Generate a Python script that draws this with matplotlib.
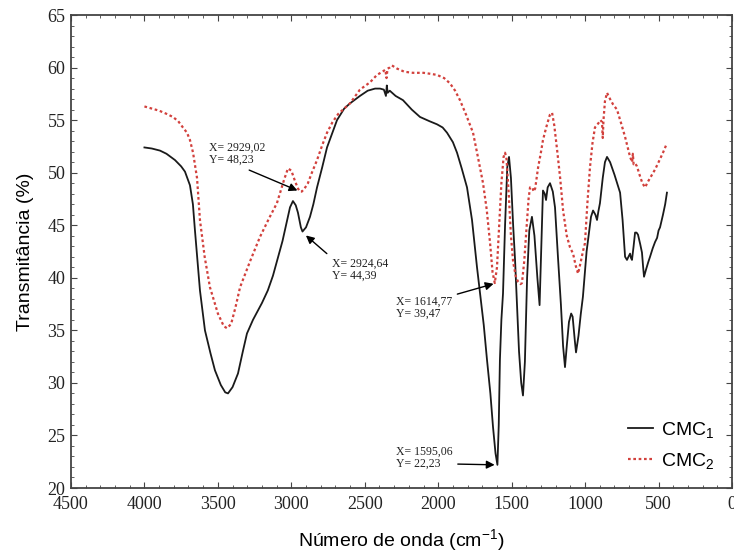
import matplotlib.pyplot as plt
from matplotlib.ticker import MultipleLocator

# CMC1 (black solid) - wavenumber / transmittance
wn1 = [4000, 3950, 3894, 3850, 3792, 3750, 3724, 3690, 3670, 3656, 3622, 3588, 3550, 3520,
       3480, 3450, 3431, 3400, 3363, 3330, 3302, 3261, 3200, 3160, 3125, 3060, 3009, 2989, 2970,
       2955, 2935, 2924, 2900, 2873, 2850, 2825, 2790, 2757, 2720, 2689, 2640, 2600, 2533,
       2480, 2430, 2396, 2370, 2356, 2350, 2344, 2330, 2290, 2240, 2180, 2124, 2060, 2008,
       1970, 1940, 1900, 1872, 1840, 1804, 1770, 1736, 1715, 1690, 1668, 1645, 1627, 1610,
       1597, 1588, 1580, 1570, 1559, 1545, 1530, 1518, 1505, 1490, 1477, 1450, 1435, 1423,
       1410, 1395, 1380, 1362, 1345, 1325, 1310, 1300, 1287, 1275, 1266, 1255, 1239, 1220,
       1205, 1185, 1165, 1150, 1137, 1125, 1110, 1095, 1085, 1070, 1062, 1045, 1030, 1015,
       990, 960, 946, 930, 919, 910, 899, 880, 865, 851, 830, 800, 762, 745, 728, 715, 705,
       694, 688, 681, 670, 660, 650, 640, 625, 613, 605, 599, 585, 570, 558, 540, 524, 510,
       500, 490, 470, 455, 443]
t1 = [52.4, 52.3, 52.1, 51.8, 51.2, 50.6, 50.1, 48.8, 47.0, 44.5, 38.8, 35.0, 32.8, 31.2,
      29.8, 29.1, 29.0, 29.6, 30.9, 33.0, 34.7, 36.0, 37.6, 38.8, 40.2, 43.5, 46.7, 47.3, 46.9,
      46.2, 44.8, 44.4, 44.8, 45.8, 47.0, 48.6, 50.5, 52.4, 53.8, 55.0, 56.1, 56.6, 57.3,
      57.8, 58.0, 58.0, 57.9, 57.3, 58.3, 57.6, 57.8, 57.3, 56.9, 56.0, 55.3, 54.9, 54.6,
      54.3, 53.8, 52.9, 51.9, 50.4, 48.6, 45.5, 41.0, 38.5, 35.5, 32.2, 29.0, 25.8, 23.3,
      22.2, 26.0, 32.2, 36.0, 38.5, 45.0, 50.5, 51.5, 49.5, 45.0, 41.7, 33.0, 30.0, 28.8,
      32.0, 40.0, 44.5, 45.8, 44.0, 40.0, 37.4, 42.0, 48.3, 48.0, 47.4, 48.6, 49.0, 48.2,
      46.7, 42.0, 37.5, 33.5, 31.5, 33.5, 35.8, 36.6, 36.3, 34.0, 32.9, 34.5, 36.5, 38.2,
      42.5, 45.8, 46.4, 46.0, 45.5, 46.3, 47.1, 49.5, 51.0, 51.5, 51.0, 49.8, 48.1, 45.5,
      42.0, 41.7, 42.0, 42.3, 41.9, 41.7, 43.0, 44.3, 44.3, 44.1, 43.2, 42.4, 41.0, 40.1,
      40.8, 41.5, 42.0, 42.8, 43.4, 43.8, 44.5, 44.8, 46.0, 47.0, 48.1]

# CMC2 (red dotted)
wn2 = [4000, 3950, 3900, 3850, 3806, 3770, 3738, 3710, 3690, 3669, 3642, 3622, 3590, 3554,
       3500, 3460, 3438, 3410, 3380, 3349, 3280, 3213, 3150, 3098, 3050, 3023, 3000, 2975,
       2955, 2941, 2929, 2910, 2887, 2860, 2825, 2790, 2757, 2720, 2680, 2640, 2600, 2533,
       2464, 2417, 2380, 2360, 2352, 2345, 2330, 2315, 2280, 2230, 2172, 2100, 2050, 2008,
       1960, 1920, 1885, 1852, 1810, 1763, 1730, 1695, 1670, 1647, 1630, 1615, 1600, 1585,
       1570, 1555, 1545, 1535, 1520, 1505, 1490, 1470, 1455, 1440, 1430, 1415, 1400, 1385,
       1375, 1360, 1350, 1340, 1320, 1300, 1287, 1265, 1240, 1225, 1210, 1191, 1170, 1150,
       1125, 1103, 1082, 1065, 1048, 1030, 1015, 1001, 985, 967, 950, 933, 910, 895, 885,
       880, 875, 865, 851, 830, 810, 783, 755, 728, 710, 694, 680, 675, 670, 660, 647, 625,
       610, 592, 570, 545, 524, 500, 470, 443]
t2 = [56.3, 56.1, 55.9, 55.6, 55.3, 54.9, 54.3, 53.8, 53.1, 51.9, 49.5, 45.5, 42.0, 39.1,
      36.6, 35.4, 35.2, 35.6, 37.2, 39.1, 41.6, 43.9, 45.7, 47.1, 49.3, 50.4, 50.2, 49.2,
      48.5, 48.2, 48.2, 48.5, 49.0, 50.0, 51.2, 52.6, 53.8, 54.8, 55.6, 56.1, 56.6, 57.9,
      58.6, 59.3, 59.6, 59.8, 59.0, 59.9, 60.0, 60.2, 59.9, 59.6, 59.5, 59.5, 59.4, 59.3,
      59.0, 58.5, 57.8, 56.9, 55.5, 53.8, 51.5, 49.0, 46.5, 43.3, 40.5, 39.5, 41.0, 45.0,
      49.0, 51.5, 51.9, 51.3, 48.0, 44.0, 41.5, 40.0, 39.6, 39.4, 39.5, 41.5, 44.5, 47.5,
      48.6, 48.6, 48.2, 48.5, 50.5, 52.0, 53.1, 54.3, 55.5, 55.7, 54.5, 52.2, 49.5, 46.4,
      44.0, 42.9, 42.3, 41.2, 40.4, 41.5, 42.5, 43.3, 47.0, 50.5, 52.8, 54.3, 54.7, 55.0, 54.8,
      53.3, 55.0, 56.8, 57.6, 57.0, 56.5, 56.0, 54.7, 53.4, 52.4, 51.5, 51.0, 51.8, 50.8,
      50.9, 50.6, 49.6, 49.0, 48.6, 49.2, 49.8, 50.3, 51.0, 51.9, 52.8]

plt.rcParams['mathtext.default'] = 'regular'

fig = plt.figure(figsize=(7.34, 5.56), dpi=100)
ax = fig.add_axes([0.0967, 0.1223, 0.9006, 0.8507])

ax.plot(wn1, t1, color='#1a1a1a', lw=1.3, label='CMC$_1$')
ax.plot(wn2, t2, color='#d2403c', lw=1.6, ls=(0, (1.2, 1.2)), label='CMC$_2$')

ax.set_xlim(4500, 0)
ax.set_ylim(20, 65)
ax.xaxis.set_major_locator(MultipleLocator(500))
ax.xaxis.set_minor_locator(MultipleLocator(100))
ax.yaxis.set_major_locator(MultipleLocator(5))
ax.yaxis.set_minor_locator(MultipleLocator(1))
ax.tick_params(which='both', direction='in', top=True, right=True, labelsize=13,
               colors='#444444', labelcolor='#222222')
ax.tick_params(which='major', length=4)
ax.tick_params(axis='x', which='major', pad=6)
ax.tick_params(axis='y', which='major', pad=4)
ax.tick_params(which='minor', length=2)
for s in ax.spines.values():
    s.set_color('#444444')
    s.set_linewidth(1.3)
for lab in ax.get_xticklabels() + ax.get_yticklabels():
    lab.set_fontfamily('Liberation Serif')

ax.set_xlabel('Número de onda (cm$^{-1}$)', fontsize=14, family='Liberation Sans', labelpad=10)
ax.set_ylabel('Transmitância (%)', fontsize=14, family='Liberation Sans', labelpad=10)

########## annotations ##########
ann = dict(fontsize=8.5, family='Liberation Serif', color='#222222', linespacing=1.0)
arr = dict(arrowstyle='-|>', color='black', lw=1.0, mutation_scale=12)
ax.annotate('X= 2929,02\nY= 48,23', xy=(2941, 48.2), xytext=(3560, 50.9),
            arrowprops=dict(arr, relpos=(0.55, 0.0)), **ann)
ax.annotate('X= 2924,64\nY= 44,39', xy=(2915, 44.2), xytext=(2725, 39.9),
            arrowprops=dict(arr, relpos=(0.0, 1.0)), **ann)
ax.annotate('X= 1614,77\nY= 39,47', xy=(1605, 39.5), xytext=(2290, 36.3),
            arrowprops=dict(arr, relpos=(1.0, 1.0)), **ann)
ax.annotate('X= 1595,06\nY= 22,23', xy=(1597, 22.2), xytext=(2290, 22.0),
            arrowprops=dict(arr, relpos=(1.0, 0.25)), **ann)

leg = ax.legend(loc='lower right', bbox_to_anchor=(1.0, 0.0), frameon=False,
                prop={'family': 'Liberation Sans', 'size': 14}, handlelength=1.3,
                handletextpad=0.4, labelspacing=0.55)

fig.savefig('out.png', dpi=100)
